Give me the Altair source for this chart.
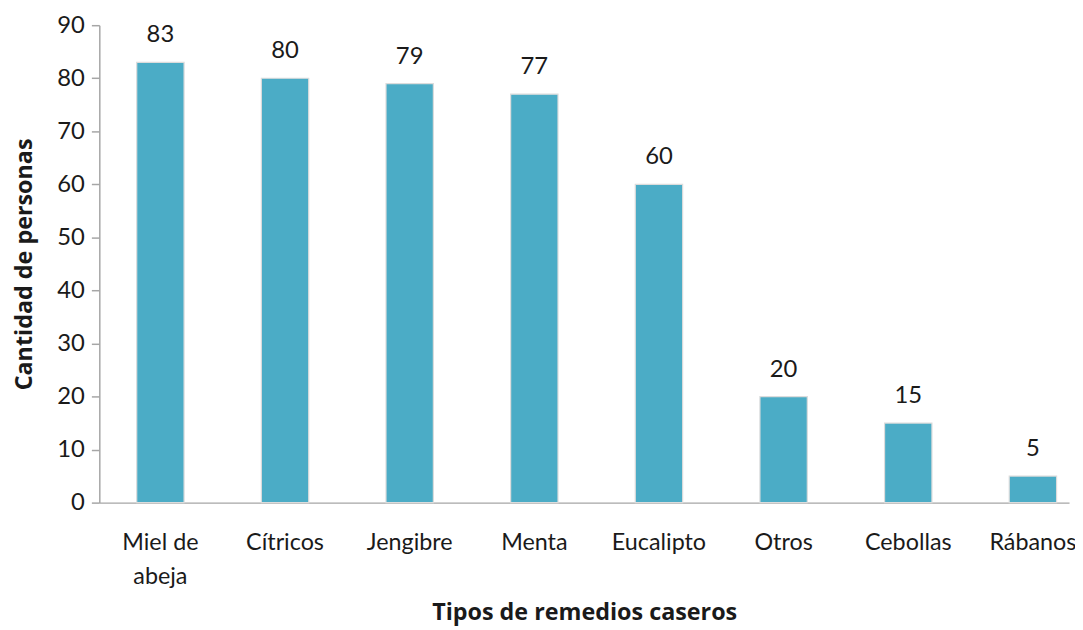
import altair as alt
import pandas as pd

categories = ["Miel de abeja", "Cítricos", "Jengibre", "Menta", "Eucalipto", "Otros", "Cebollas", "Rábanos"]
values = [83, 80, 79, 77, 60, 20, 15, 5]

df = pd.DataFrame({"cat": categories, "val": values})

FONT = "Lato"
TFONT = "Open Sans"
x = alt.X(
    "cat:N",
    sort=categories,
    scale=alt.Scale(paddingInner=0.62, paddingOuter=0.2, align=0.75),
    axis=alt.Axis(
        title="Tipos de remedios caseros",
        labelAngle=0,
        ticks=False,
        domainColor="#a6a6a6",
        domainWidth=1.5,
        labelFont=FONT,
        labelFontSize=23.5,
        labelColor="#1a1a1a",
        labelPadding=40,
        labelLineHeight=34,
        labelBaseline="middle",
        labelExpr="datum.label == 'Miel de abeja' ? ['Miel de', 'abeja'] : datum.label",
        titleFont=TFONT,
        titleFontSize=23.5,
        titleFontWeight="bold",
        titleColor="#1a1a1a",
        titlePadding=13,
    ),
)
y = alt.Y(
    "val:Q",
    scale=alt.Scale(domain=[0, 90], nice=False),
    axis=alt.Axis(
        title="Cantidad de personas",
        values=list(range(0, 91, 10)),
        grid=False,
        tickSize=8,
        tickColor="#a6a6a6",
        tickWidth=1.5,
        domainColor="#a6a6a6",
        domainWidth=1.5,
        labelFont=FONT,
        labelFontSize=24,
        labelColor="#1a1a1a",
        labelPadding=7,
        titleFont=TFONT,
        titleFontSize=23.5,
        titleFontWeight="bold",
        titleColor="#1a1a1a",
        titlePadding=20,
    ),
)

bars = alt.Chart(df).mark_bar(color="#4BACC6", stroke="#dcdcdc", strokeWidth=1.2).encode(x=x, y=y)
labels = alt.Chart(df).mark_text(
    font=FONT, fontSize=24, color="#1a1a1a", baseline="bottom", dy=-15
).encode(x=x, y=y, text="val:Q")

chart = (
    alt.layer(bars, labels)
    .properties(
        width=977,
        height=481,
        autosize=alt.AutoSizeParams(type="none"),
        padding={"left": 92, "top": 15, "right": 6, "bottom": 126},
    )
    .configure_view(stroke=None)
)

chart.save("out.html", embed_options={"renderer": "svg", "actions": False})
